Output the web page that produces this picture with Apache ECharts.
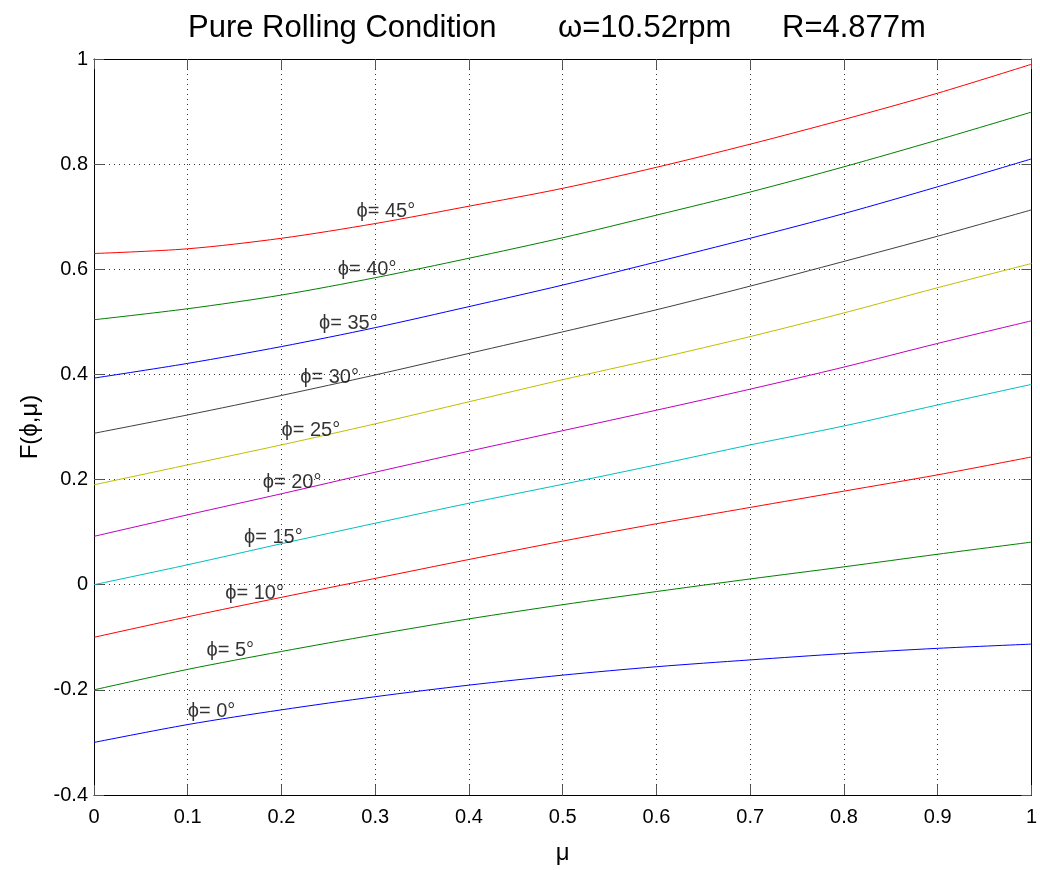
<!DOCTYPE html>
<html>
<head>
<meta charset="utf-8">
<script src="https://cdn.jsdelivr.net/npm/echarts@6/dist/echarts.min.js"></script>
<style>
    html, body { margin: 0; padding: 0; background: #fff; }
    #chart { width: 1040px; height: 870px; }
</style>
</head>
<body>
<div id="chart"></div>
<script>
    // mu values (x axis)
    const mu = [0, 0.1, 0.2, 0.3, 0.4, 0.5, 0.6, 0.7, 0.8, 0.9, 1.0]

    // F(phi, mu) for each phi
    const phi0  = [-0.300, -0.266, -0.238, -0.213, -0.191, -0.172, -0.156, -0.143, -0.131, -0.121, -0.113]
    const phi5  = [-0.200, -0.161, -0.127, -0.095, -0.065, -0.038, -0.013, 0.011, 0.034, 0.058, 0.081]
    const phi10 = [-0.100, -0.061, -0.024, 0.012, 0.048, 0.083, 0.116, 0.147, 0.178, 0.209, 0.243]
    const phi15 = [0.000, 0.038, 0.078, 0.117, 0.155, 0.191, 0.228, 0.266, 0.302, 0.342, 0.381]
    const phi20 = [0.092, 0.133, 0.173, 0.214, 0.254, 0.293, 0.332, 0.372, 0.414, 0.459, 0.502]
    const phi25 = [0.190, 0.228, 0.266, 0.306, 0.348, 0.390, 0.430, 0.472, 0.517, 0.565, 0.611]
    const phi30 = [0.288, 0.323, 0.360, 0.399, 0.440, 0.481, 0.523, 0.568, 0.615, 0.663, 0.713]
    const phi35 = [0.393, 0.421, 0.453, 0.489, 0.529, 0.570, 0.614, 0.659, 0.706, 0.757, 0.810]
    const phi40 = [0.504, 0.525, 0.551, 0.584, 0.621, 0.660, 0.703, 0.747, 0.795, 0.846, 0.899]
    const phi45 = [0.630, 0.639, 0.659, 0.687, 0.720, 0.754, 0.794, 0.838, 0.885, 0.935, 0.990]

    const curves = [phi0, phi5, phi10, phi15, phi20, phi25, phi30, phi35, phi40, phi45]
    const phiNames = ['ϕ= 0°', 'ϕ= 5°', 'ϕ= 10°', 'ϕ= 15°', 'ϕ= 20°', 'ϕ= 25°', 'ϕ= 30°', 'ϕ= 35°', 'ϕ= 40°', 'ϕ= 45°']
    const colors = ['#0000ff', '#008000', '#ff0000', '#00bfbf', '#bf00bf', '#bfbf00', '#404040', '#0000ff', '#008000', '#ff0000']

    // where the curve labels sit
    const labelMu = [0.10, 0.12, 0.14, 0.16, 0.18, 0.20, 0.22, 0.24, 0.26, 0.28]
    const labelF  = [-0.242, -0.125, -0.016, 0.089, 0.194, 0.293, 0.395, 0.496, 0.600, 0.709]

    const titleParts = ['Pure Rolling Condition', 'ω=10.52rpm', 'R=4.877m']

    const yTicks = { min: -0.4, max: 1, interval: 0.2 }
    const xTicks = { min: 0, max: 1, interval: 0.1 }

    let chart = echarts.init(document.getElementById('chart'))
    let font = 'Liberation Sans, Arial, sans-serif'

    let frameAxis = {
        axisLine: { show: true, onZero: false, lineStyle: { color: '#000', width: 1 } },
        axisTick: { show: true, inside: true, length: 10, lineStyle: { color: '#555' } },
    }

    let series = curves.map((c, i) => {
        return {
            name: phiNames[i],
            type: 'line',
            data: mu.map((m, j) => [m, c[j]]),
            showSymbol: false,
            smooth: 0.3,
            lineStyle: { width: 1, color: colors[i] },
            itemStyle: { color: colors[i] },
            z: 3
        }
    })
    series.push({
        name: 'labels',
        type: 'scatter',
        symbolSize: 0,
        data: labelMu.map((m, i) => ({ value: [m, labelF[i]], name: phiNames[i] })),
        label: {
            show: true,
            position: 'right',
            distance: 0,
            formatter: p => p.name,
            color: '#000',
            fontSize: 20,
            fontFamily: font
        },
        z: 4
    })

    let titleLeft = [183, 553, 777]
    let options = {
        animation: false,
        backgroundColor: '#fff',
        textStyle: { fontFamily: font },
        title: titleParts.map((t, i) => ({
            text: t,
            left: titleLeft[i],
            top: 8,
            textStyle: { fontSize: 31, fontWeight: 'normal', color: '#000', fontFamily: font }
        })),
        grid: { left: 94, right: 7, top: 59, bottom: 68 },
        xAxis: [
            Object.assign({
                type: 'value',
                min: xTicks.min, max: xTicks.max, interval: xTicks.interval,
                position: 'bottom',
                name: 'μ',
                nameLocation: 'middle',
                nameGap: 46,
                nameTextStyle: { fontSize: 24, color: '#000' },
                axisLabel: { fontSize: 20, color: '#000', margin: 12 },
                splitLine: { show: true, lineStyle: { color: '#333', type: [1, 4], width: 1 } }
            }, frameAxis),
            Object.assign({
                type: 'value',
                min: xTicks.min, max: xTicks.max, interval: xTicks.interval,
                position: 'top',
                axisLabel: { show: false },
                splitLine: { show: false }
            }, frameAxis)
        ],
        yAxis: [
            Object.assign({
                type: 'value',
                min: yTicks.min, max: yTicks.max, interval: yTicks.interval,
                position: 'left',
                name: 'F(ϕ,μ)',
                nameLocation: 'middle',
                nameGap: 46,
                nameTextStyle: { fontSize: 24, color: '#000' },
                axisLabel: { fontSize: 20, color: '#000', margin: 6 },
                splitLine: { show: true, lineStyle: { color: '#333', type: [1, 4], width: 1 } }
            }, frameAxis),
            Object.assign({
                type: 'value',
                min: yTicks.min, max: yTicks.max, interval: yTicks.interval,
                position: 'right',
                axisLabel: { show: false },
                splitLine: { show: false }
            }, frameAxis)
        ],
        series: series
    }
    chart.setOption(options)
</script>
</body>
</html>
